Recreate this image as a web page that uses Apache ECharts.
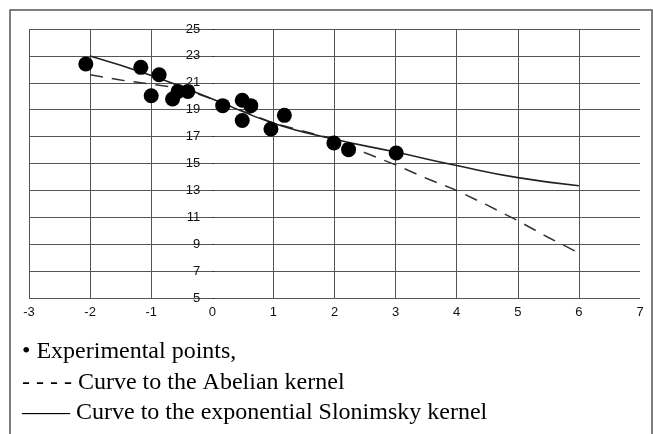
<!DOCTYPE html>
<html>
<head>
<meta charset="utf-8">
<script src="https://cdn.jsdelivr.net/npm/echarts@6/dist/echarts.min.js"></script>
<style>
html,body{margin:0;padding:0;background:#fff;}
#main{width:653px;height:434px;}
</style>
</head>
<body>
<div id="main"></div>
<script>
// Experimental points
var pointsX = [-2.07, -1.17, -0.87, -1.0, -0.65, -0.56, -0.40, 0.17, 0.49, 0.63, 0.49, 0.96, 1.18, 1.99, 2.23, 3.01];
var pointsY = [22.4, 22.15, 21.6, 20.04, 19.8, 20.36, 20.36, 19.3, 19.7, 19.3, 18.2, 17.57, 18.58, 16.52, 16.03, 15.78];
// Curve to the exponential Slonimsky kernel (solid)
var slonimskyX = [-2, -1, 0, 1, 2, 3, 4, 5, 6];
var slonimskyY = [23.0, 21.55, 19.8, 18.0, 16.8, 15.85, 14.85, 13.95, 13.35];
// Curve to the Abelian kernel (dashed)
var abelianX = [-2, -1.5, -1, -0.5, 0, 1, 2, 2.5, 3, 3.5, 4, 4.5, 5, 5.5, 6];
var abelianY = [21.6, 21.2, 20.9, 20.6, 19.8, 18.0, 16.8, 15.8, 14.9, 13.9, 13.0, 11.9, 10.75, 9.5, 8.35];
// Legend lines
var legendLines = ['\u2022 Experimental points,', '- - - - Curve to the Abelian kernel', '\u2014\u2014 Curve to the exponential Slonimsky kernel'];

function zip(a, b) { return a.map(function (v, i) { return [v, b[i]]; }); }

var chart = echarts.init(document.getElementById('main'));
var gridColor = '#555';
var gridLeft = 29, gridRight = 13;
var xMin = -3, xMax = 7;
var plotW = 653 - gridLeft - gridRight;
// put the y axis at x = 0 (inside the grid)
var yAxisOffset = -plotW * (0 - xMin) / (xMax - xMin);
var option = {
  backgroundColor: '#ffffff',
  animation: false,
  grid: { left: gridLeft, right: gridRight, top: 29, bottom: 136 },
  xAxis: {
    type: 'value', min: xMin, max: xMax, interval: 1,
    axisLine: { show: false },
    axisTick: { show: false },
    axisLabel: { color: '#111', fontFamily: 'Liberation Sans', fontSize: 13, margin: 8 },
    splitLine: {
      show: true, showMaxLine: false,
      lineStyle: { width: 1, color: [gridColor, gridColor, gridColor, 'rgba(0,0,0,0)', gridColor, gridColor, gridColor, gridColor, gridColor, gridColor, gridColor] }
    }
  },
  yAxis: {
    type: 'value', min: 5, max: 25, interval: 2,
    position: 'left', offset: yAxisOffset,
    axisLine: { show: true, onZero: false, lineStyle: { color: 'rgba(0,0,0,0)' } },
    axisTick: { show: true, inside: true, length: 2, lineStyle: { color: '#333' } },
    axisLabel: { color: '#111', fontFamily: 'Liberation Sans', fontSize: 13, margin: 12 },
    splitLine: { show: true, lineStyle: { width: 1, color: gridColor } }
  },
  graphic: [
    { type: 'rect', shape: { x: 10, y: 10, width: 642, height: 440 }, style: { fill: 'none', stroke: '#555', lineWidth: 1.5 }, z: 100 },
    { type: 'text', left: 22, top: 340, style: { text: legendLines[0], font: '24px "Liberation Serif"', fill: '#000' } },
    { type: 'text', left: 22, top: 371, style: { text: legendLines[1], font: '24px "Liberation Serif"', fill: '#000' } },
    { type: 'text', left: 22, top: 401, style: { text: legendLines[2], font: '24px "Liberation Serif"', fill: '#000' } }
  ],
  series: [
    {
      name: 'Curve to the Abelian kernel', type: 'line', data: zip(abelianX, abelianY),
      symbol: 'none', smooth: false,
      lineStyle: { color: '#333', width: 1.5, type: [13, 9] }, z: 3
    },
    {
      name: 'Curve to the exponential Slonimsky kernel', type: 'line', data: zip(slonimskyX, slonimskyY),
      symbol: 'none', smooth: true,
      lineStyle: { color: '#222', width: 1.6 }, z: 4
    },
    {
      name: 'Experimental points', type: 'scatter', data: zip(pointsX, pointsY),
      symbol: 'circle', symbolSize: 15,
      itemStyle: { color: '#000', opacity: 1 }, z: 5
    }
  ]
};
chart.setOption(option);
</script>
</body>
</html>
